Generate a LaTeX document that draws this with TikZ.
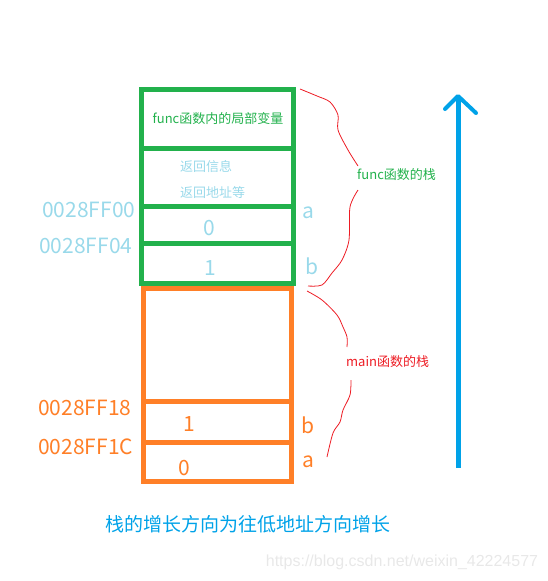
\documentclass[tikz,border=0pt]{standalone}
\usepackage{fontspec}
\setmainfont{Noto Sans CJK SC}
\newfontfamily\wmfont{Liberation Sans}
\definecolor{funcgreen}{HTML}{22B14C}
\definecolor{mainorange}{HTML}{FF7F27}
\definecolor{addrblue}{HTML}{99D9EA}
\definecolor{growblue}{HTML}{00A2E8}
\definecolor{bracered}{HTML}{ED1C24}
\begin{document}
    \begin{tikzpicture}[x=1pt,y=-1pt,
        frame/.style={line width=5pt},
        big/.style={inner sep=0pt,font=\fontsize{21}{21}\selectfont},
        small/.style={inner sep=0pt,font=\fontsize{13}{13}\selectfont},
        brace/.style={bracered,line width=.8pt}]
        \useasboundingbox (0,0) rectangle (548,581);
        \draw[frame,mainorange] (143,288) rectangle (291.5,481);
        \draw[frame,mainorange] (143,401)--(291.5,401);
        \draw[frame,mainorange] (143,442.5)--(291.5,442.5);
        \draw[frame,funcgreen] (141.5,89.5) rectangle (293,283.5);
        \draw[frame,funcgreen] (141.5,148)--(293,148);
        \draw[frame,funcgreen] (141.5,206.5)--(296,206.5);
        \draw[frame,funcgreen] (141.5,243.5)--(293,243.5);
        \node[small,text=funcgreen] (locals) at (218,119) {func函数内的局部变量};
        \node[small,text=addrblue,anchor=west] (retinfo) at (180,167) {返回信息};
        \node[small,text=addrblue,anchor=west] (retaddr) at (180,193) {返回地址等};
        \node[big,text=addrblue,anchor=west] (fa) at (42,210) {0028FF00};
        \node[big,text=addrblue,anchor=west] (fb) at (39,246) {0028FF04};
        \node[big,text=addrblue] (fva) at (209,228) {0};
        \node[big,text=addrblue] (fvb) at (210,268) {1};
        \node[big,text=addrblue] (fna) at (308,213) {a};
        \node[big,text=addrblue] (fnb) at (312,266) {b};
        \node[big,text=mainorange,anchor=west] (mb) at (38,408) {0028FF18};
        \node[big,text=mainorange,anchor=west] (ma) at (38,447) {0028FF1C};
        \node[big,text=mainorange] (mvb) at (189,424) {1};
        \node[big,text=mainorange] (mva) at (184,468) {0};
        \node[big,text=mainorange] (mnb) at (308,425) {b};
        \node[big,text=mainorange] (mna) at (308,462) {a};
        \node[small,text=funcgreen,anchor=west] (funcstack) at (357,175) {func函数的栈};
        \node[small,text=bracered,anchor=west] (mainstack) at (346,362) {main函数的栈};
        \draw[brace] plot[smooth] coordinates {(300,89) (317,96) (330,102) (338,115) (338,130) (348,150) (358,166)};
        \draw[brace] plot[smooth] coordinates {(358,190) (350,207) (349,240) (342,260) (332,273) (322,285) (308,286)};
        \draw[brace] plot[smooth] coordinates {(307,291) (322,300) (337,315) (343,327) (347,337) (347,347)};
        \draw[brace] plot[smooth] coordinates {(351,380) (350,395) (343,410) (340,422) (333,433) (327,457)};
        \coordinate (low) at (458,468);
        \coordinate (high) at (458,96);
        \draw[growblue,line width=5pt] (low)--(high);
        \draw[growblue,line width=4pt,line cap=round,line join=round] (445,109)--(high)--(476,113);
        \node[inner sep=0pt,text=growblue,font=\fontsize{19}{19}\selectfont] (grows) at (248,524) {栈的增长方向为往低地址方向增长};
        \node[inner sep=0pt,text=black!9,font=\wmfont\fontsize{16}{16}\selectfont] (mark) at (402,562) {https://blog.csdn.net/weixin\_42224577};
    \end{tikzpicture}
\end{document}
